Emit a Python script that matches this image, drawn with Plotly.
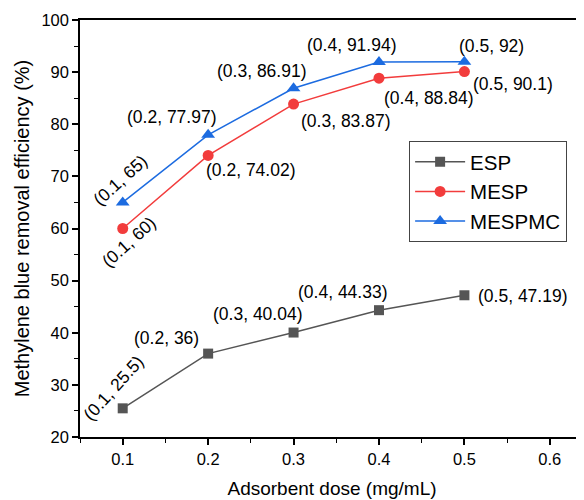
import plotly.graph_objects as go

doses = [0.1, 0.2, 0.3, 0.4, 0.5]
esp = [25.5, 36, 40.04, 44.33, 47.19]
mesp = [60, 74.02, 83.87, 88.84, 90.1]
mespmc = [65, 77.97, 86.91, 91.94, 92]

series = [
    ("ESP", esp, "#555555", "square", 10),
    ("MESP", mesp, "#f23c3c", "circle", 11),
    ("MESPMC", mespmc, "#1c6be0", "triangle-up", 12),
]

# label offsets (pixels) and rotation per series
offsets = {
    "ESP": [(-9, 20, -48), (-42, 16, 0), (-36, 19, 0), (-36, 18, 0), (59, -1, 0)],
    "MESP": [(6, -13, -42), (43, -15, 0), (52, -17, 0), (50, -20, 0), (49, -12, 0)],
    "MESPMC": [(-2, 22, -42), (-36, 18, 0), (-32, 17, 0), (-27, 17, 0), (27, 16, 0)],
}

fig = go.Figure()
for name, vals, color, sym, size in series:
    fig.add_trace(go.Scatter(
        x=doses, y=vals, name=name, mode="lines+markers",
        line=dict(color=color, width=1.5),
        marker=dict(symbol=sym, size=size, color=color),
    ))
    for (xv, yv), (dx, dy, ang) in zip(zip(doses, vals), offsets[name]):
        fig.add_annotation(
            x=xv, y=yv, text=f"({xv:g}, {yv:g})", showarrow=False,
            xshift=dx, yshift=dy, textangle=ang,
            font=dict(size=17.5, color="black", family="Liberation Sans, Arial"),
        )

fig.update_layout(
    width=576, height=492,
    margin=dict(l=72, r=0, t=12, b=63, autoexpand=False),
    plot_bgcolor="white", paper_bgcolor="white",
    font=dict(family="Liberation Sans, Arial", color="black"),
    showlegend=True,
    legend=dict(
        x=0.653, y=0.71, xanchor="left", yanchor="top",
        bordercolor="#444444", borderwidth=1,
        font=dict(size=20.5), itemwidth=50, tracegroupgap=0,
    ),
)
fig.update_xaxes(
    range=[0.05, 0.64], tickvals=[0.1, 0.2, 0.3, 0.4, 0.5, 0.6],
    ticktext=["0.1", "0.2", "0.3", "0.4", "0.5", "0.6"],
    showline=True, linecolor="black", linewidth=1.5, mirror=True,
    ticks="outside", ticklen=6, tickwidth=1.5, tickcolor="black",
    minor=dict(ticks="outside", ticklen=4, tickwidth=1.2, tickcolor="black", dtick=0.05, tick0=0.05),
    showgrid=False, zeroline=False,
    tickfont=dict(size=16.5),
    title=dict(text="Adsorbent dose (mg/mL)", font=dict(size=19), standoff=15),
)
fig.update_yaxes(
    range=[20, 100], dtick=10,
    showline=True, linecolor="black", linewidth=1.5,
    ticks="outside", ticklen=6, tickwidth=1.5, tickcolor="black",
    minor=dict(ticks="outside", ticklen=4, tickwidth=1.2, tickcolor="black", dtick=5),
    showgrid=False, zeroline=False,
    tickfont=dict(size=16.5),
    title=dict(text="Methylene blue removal efficiency (%)", font=dict(size=20), standoff=6),
)

fig.write_html("out.html")
